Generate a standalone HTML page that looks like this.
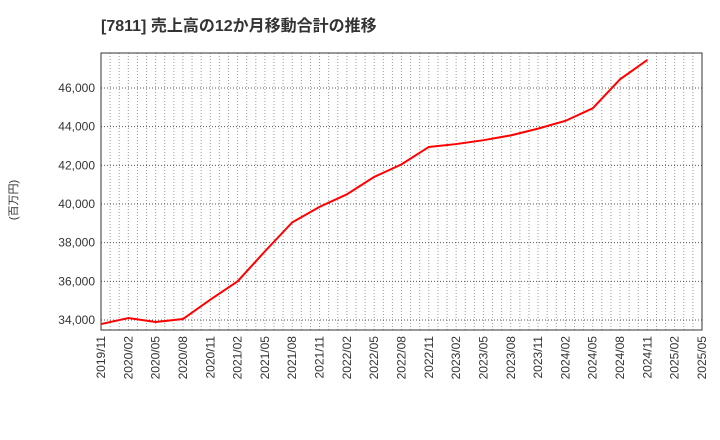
<!DOCTYPE html>
<html><head><meta charset="utf-8"><style>
body{margin:0;background:#fff;}
svg{display:block;font-family:"Liberation Sans","Noto Sans CJK JP",sans-serif;}
</style></head><body>
<svg id="c" width="720" height="440" xmlns="http://www.w3.org/2000/svg">
<text x="101" y="31" font-size="16" font-weight="bold" fill="#333">[7811]  売上高の12か月移動合計の推移</text>
<text transform="translate(17,200) rotate(-90)" font-size="11" fill="#333" text-anchor="middle">(百万円)</text>
<g id="grid"></g><g id="axes"></g><g id="series"></g>
</svg>
<script>
const xLabels=["2019/11","2020/02","2020/05","2020/08","2020/11","2021/02","2021/05","2021/08","2021/11","2022/02","2022/05","2022/08","2022/11","2023/02","2023/05","2023/08","2023/11","2024/02","2024/05","2024/08","2024/11","2025/02","2025/05"];
const values=[33790,34100,33900,34050,35050,36000,37550,39050,39850,40500,41400,42050,42950,43100,43300,43550,43900,44300,44950,46450,47450];
const yTicks=[34000,36000,38000,40000,42000,44000,46000];
const L=101,R=702,T=53,B=330;
const yMin=33483,yMax=47810;
const ns="http://www.w3.org/2000/svg";
const xq=i=>L+(R-L)*i/(xLabels.length-1);
const xm=m=>L+(R-L)*m/((xLabels.length-1)*3);
const y=v=>B-(v-yMin)/(yMax-yMin)*(B-T);
function mk(t,a,p){const e=document.createElementNS(ns,t);for(const k in a)e.setAttribute(k,a[k]);p.appendChild(e);return e;}
const g=document.getElementById('grid'),ax=document.getElementById('axes'),s=document.getElementById('series');
for(let m=1;m<(xLabels.length-1)*3;m++){
 const l=mk('line',{x1:xm(m),x2:xm(m),y1:T,y2:B,stroke:'#999','stroke-dasharray':'1,2','stroke-width':1},g);
 
 
}
yTicks.forEach(v=>{
 const l=mk('line',{x1:L,x2:R,y1:y(v),y2:y(v),stroke:'#555','stroke-dasharray':'1,2','stroke-width':1},g);
 
 
 const t=mk('text',{x:L-6,y:y(v)+4,'font-size':12,fill:'#333','text-anchor':'end'},ax);
 t.textContent=v.toLocaleString('en-US');
 
 
});
const fr=mk('rect',{x:L,y:T,width:R-L,height:B-T,fill:'none',stroke:'#333','stroke-width':1},ax);


xLabels.forEach((lb,i)=>{
 const t=mk('text',{transform:`translate(${xq(i)+4},${B+6}) rotate(-90)`,'font-size':12,fill:'#333','text-anchor':'end'},ax);
 t.textContent=lb;
 
 
});
const p=mk('polyline',{points:values.map((v,i)=>xq(i)+','+y(v)).join(' '),fill:'none',stroke:'#f00','stroke-width':2},s);


</script>
</body></html>
